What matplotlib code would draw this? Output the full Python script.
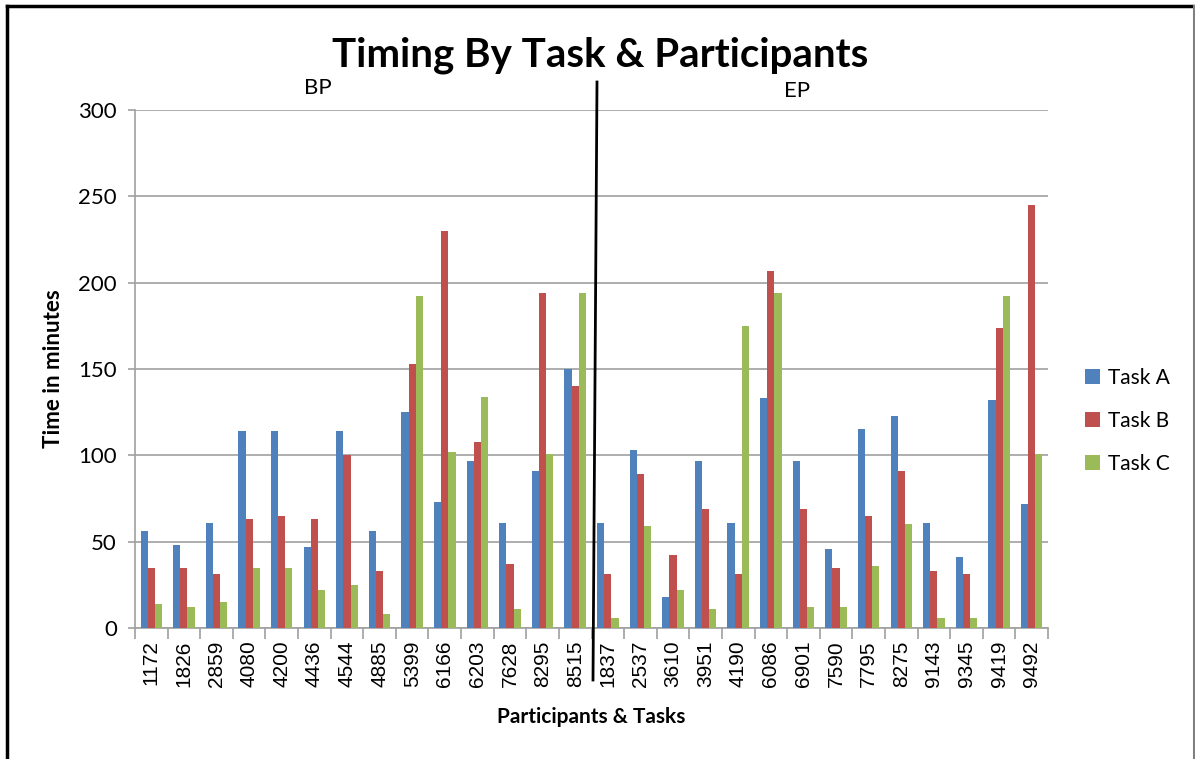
import numpy as np
import matplotlib
matplotlib.use("Agg")
import matplotlib.pyplot as plt
from matplotlib.lines import Line2D

participants = ["1172", "1826", "2859", "4080", "4200", "4436", "4544", "4885",
                "5399", "6166", "6203", "7628", "8295", "8515",
                "1837", "2537", "3610", "3951", "4190", "6086", "6901", "7590",
                "7795", "8275", "9143", "9345", "9419", "9492"]
task_a = [56, 48, 61, 114, 114, 47, 114, 56, 125, 73, 97, 61, 91, 150,
          61, 103, 18, 97, 61, 133, 97, 46, 115, 123, 61, 41, 132, 72]
task_b = [35, 35, 31, 63, 65, 63, 100, 33, 153, 230, 108, 37, 194, 140,
          31, 89, 42, 69, 31, 207, 69, 35, 65, 91, 33, 31, 174, 245]
task_c = [14, 12, 15, 35, 35, 22, 25, 8, 192, 102, 134, 11, 101, 194,
          6, 59, 22, 11, 175, 194, 12, 12, 36, 60, 6, 6, 192, 101]
series_names = ["Task A", "Task B", "Task C"]
colors = ["#4F81BD", "#C0504D", "#9BBB59"]

plt.rcParams['font.family'] = ['Lato', 'DejaVu Sans']

fig = plt.figure(figsize=(11.95, 7.59), dpi=100)
ax = fig.add_axes([135/1195, 1 - 628/759, (1048-135)/1195, (628-110)/759])

x = np.arange(len(participants))
w = 0.22
for i, (vals, name, c) in enumerate(zip([task_a, task_b, task_c], series_names, colors)):
    ax.bar(x + (i - 1) * w, vals, w, color=c, label=name, zorder=3)

ax.set_xlim(-0.5, len(participants) - 0.5)
ax.set_ylim(0, 300)
ax.set_yticks(range(0, 301, 50))
ax.yaxis.grid(True, color="#a0a0a0", linewidth=1.2, zorder=0)
ax.set_xticks(x)
ax.set_xticklabels(participants, rotation=90, fontsize=15, family='Liberation Sans')
ax.set_xticks(np.arange(-0.5, len(participants), 1), minor=True)
ax.tick_params(axis='x', which='major', length=0, pad=9)
ax.tick_params(axis='x', which='minor', length=8, color="#a0a0a0", width=1.2)
ax.tick_params(axis='y', length=5, color="#a0a0a0", width=1.2, labelsize=16, pad=8)
for s in ['top', 'right']:
    ax.spines[s].set_visible(False)
for s in ['left', 'bottom']:
    ax.spines[s].set_color("#a0a0a0")
    ax.spines[s].set_linewidth(1.2)

ax.set_ylabel("Time in minutes", fontsize=16, fontweight='bold', labelpad=10)
ax.set_xlabel("Participants & Tasks", fontsize=15, fontweight='bold', labelpad=14)

ax.legend(loc='center left', bbox_to_anchor=(1.02, 0.40), frameon=False,
          fontsize=15, handlelength=0.7, handleheight=0.7, labelspacing=1.1,
          handletextpad=0.4)

fig.text(600/1195, 1 - 55/759, "Timing By Task & Participants", ha='center', va='center',
         fontsize=29, fontweight='bold')
fig.text(318/1195, 1 - 88/759, "BP", ha='center', va='center', fontsize=16)
fig.text(797/1195, 1 - 91/759, "EP", ha='center', va='center', fontsize=16)

# divider between BP and EP groups
fig.add_artist(Line2D([597/1195, 593/1195], [1 - 82/759, 1 - 680/759],
                      transform=fig.transFigure, color='black', linewidth=2))

# chart frame
fig.add_artist(Line2D([7/1195, 7/1195], [0, 1 - 6/759], transform=fig.transFigure,
                      color='black', linewidth=2.5))
fig.add_artist(Line2D([7/1195, 1194/1195], [1 - 6/759, 1 - 6/759], transform=fig.transFigure,
                      color='black', linewidth=2.5))
fig.add_artist(Line2D([1194/1195, 1194/1195], [0, 1 - 6/759], transform=fig.transFigure,
                      color='#808080', linewidth=1.5))

fig.savefig("out.png", dpi=100)
